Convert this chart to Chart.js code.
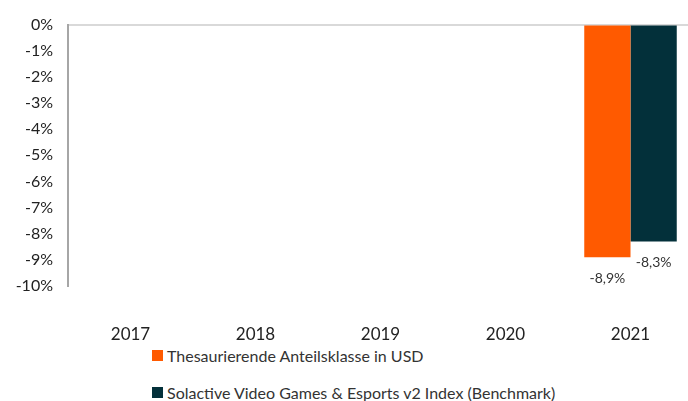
<!DOCTYPE html>
<html>
<head>
    <title>Performance 2021</title>
    <script src="https://cdn.jsdelivr.net/npm/chart.js"></script>
    <style>
        body { margin: 0; background: #fff; font-family: Lato, sans-serif; overflow: hidden; }
        #wrap { position: relative; width: 693px; height: 340px; }
        #legend { position: absolute; left: 152px; top: 344px; font-size: 16px; color: #333; }
        .item { display: flex; align-items: center; height: 22px; margin-bottom: 15px; }
        .box { width: 11px; height: 11px; margin-right: 4px; }
    </style>
</head>
<body>
    <div id="wrap"><canvas id="perfChart"></canvas></div>
    <div id="legend"></div>

    <script>
    // chart data
    const years = ['2017', '2018', '2019', '2020', '2021'];
    const fundValues = [null, null, null, null, -8.9];
    const benchValues = [null, null, null, null, -8.3];
    const seriesNames = ['Thesaurierende Anteilsklasse in USD', 'Solactive Video Games & Esports v2 Index (Benchmark)'];
    const seriesColors = ['#ff5a00', '#03303a'];

    // draws value labels under each bar
    const valueLabels = {
        id: 'valueLabels',
        afterDatasetsDraw(chart) {
            const ctx = chart.ctx;
            ctx.save();
            ctx.font = '14px Lato, sans-serif';
            ctx.fillStyle = '#333';
            ctx.textAlign = 'center';
            ctx.textBaseline = 'top';
            chart.data.datasets.forEach(function(ds, i) {
                chart.getDatasetMeta(i).data.forEach(function(bar, j) {
                    const v = ds.data[j];
                    if (v === null) return;
                    ctx.fillText(v.toFixed(1).replace('.', ',') + '%', bar.x, bar.y + 14);
                });
            });
            ctx.restore();
        }
    };

    new Chart(document.getElementById('perfChart'), {
        type: 'bar',
        data: {
            labels: years,
            datasets: [{
                label: seriesNames[0],
                data: fundValues,
                backgroundColor: seriesColors[0]
            }, {
                label: seriesNames[1],
                data: benchValues,
                backgroundColor: seriesColors[1]
            }]
        },
        options: {
            responsive: true,
            maintainAspectRatio: false,
            animation: false,
            categoryPercentage: 0.74,
            barPercentage: 1,
            layout: { padding: { top: 22, right: 0 } },
            plugins: {
                legend: { display: false },
                tooltip: { enabled: false }
            },
            scales: {
                x: {
                    grid: { display: false },
                    border: { display: false },
                    ticks: { color: '#222', font: { size: 17, family: 'Lato' }, padding: 30 },
                    afterFit: function(scale) { scale.height = 54; }
                },
                y: {
                    min: -10,
                    max: 0,
                    ticks: {
                        stepSize: 1,
                        color: '#222',
                        font: { size: 16, family: 'Lato' },
                        padding: 15,
                        callback: function(v) { return v + '%'; }
                    },
                    grid: {
                        drawTicks: false,
                        lineWidth: 2,
                        color: function(c) { return c.tick && c.tick.value === 0 ? '#d9d9d9' : 'rgba(0,0,0,0)'; }
                    },
                    border: { color: '#a6a6a6', width: 2 },
                    afterFit: function(scale) { scale.width = 68; }
                }
            }
        },
        plugins: [valueLabels]
    });

    // legend as a vertical list
    const legend = document.getElementById('legend');
    seriesNames.forEach(function(name, i) {
        const row = document.createElement('div');
        row.className = 'item';
        row.innerHTML = '<span class="box" style="background:' + seriesColors[i] + '"></span><span>' + name + '</span>';
        legend.appendChild(row);
    });
    </script>
</body>
</html>
